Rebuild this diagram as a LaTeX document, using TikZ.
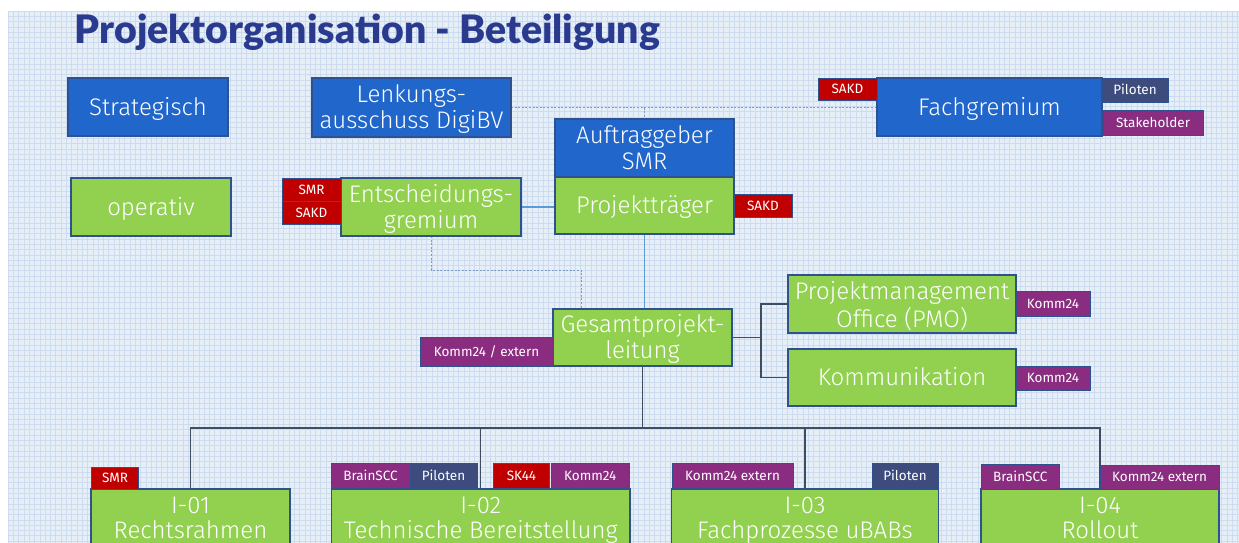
\documentclass[tikz,border=0pt]{standalone}
\usepackage{fontspec}
\usepackage{graphicx}
\setmainfont{Fira Sans}[UprightFont={* Light},BoldFont={*}]
\newfontfamily\tagfont{Fira Sans}
\newfontfamily\titlefont{Lato}[UprightFont={* Black}]
\usetikzlibrary{calc}

\definecolor{paperblue}{HTML}{E6EEF8}
\definecolor{gridblue}{HTML}{CCDCEE}
\definecolor{boxblue}{HTML}{2166CB}
\definecolor{boxgreen}{HTML}{92D050}
\definecolor{boxedge}{HTML}{2F528F}
\definecolor{tagred}{HTML}{C00000}
\definecolor{tagpurple}{HTML}{8A2D80}
\definecolor{tagslate}{HTML}{3D4B7D}
\definecolor{linkblue}{HTML}{5B9BD5}
\definecolor{dashblue}{HTML}{7A9CC6}
\definecolor{treegray}{HTML}{3E4D61}
\definecolor{titleblue}{HTML}{2A3B8F}

\pgfdeclarelayer{paper}
\pgfdeclarelayer{wires}
\pgfsetlayers{paper,wires,main}

% two centred lines, baseline on the first one
\newcommand\twol[2]{\begin{tabular}[t]{@{}c@{}}#1\\#2\end{tabular}}

\tikzset{
  every node/.style={inner sep=0pt, outer sep=0pt},
  sz/.style 2 args={minimum width=#1pt, minimum height=#2pt},
  unit/.style={draw=boxedge, line width=1.3pt, text=white, align=center,
    font=\fontsize{24}{26}\selectfont},
  bluebox/.style={unit, fill=boxblue},
  greenbox/.style={unit, fill=boxgreen},
  one/.style={text height=16.5pt, text depth=0pt},
  two/.style={text height=16.5pt, text depth=26pt},
  lower/.style={font=\fontsize{24}{24}\selectfont, text height=16.5pt, text depth=24pt},
  tag/.style={draw=boxedge, line width=0.8pt, text=white,
    font=\tagfont\fontsize{13.5}{15}\selectfont, text height=9.3pt, text depth=0pt},
  redtag/.style={tag, fill=tagred},
  purpletag/.style={tag, fill=tagpurple},
  slatetag/.style={tag, fill=tagslate},
  link/.style={draw=linkblue, line width=1.2pt},
  dashlink/.style={draw=dashblue, line width=0.9pt, dash pattern=on 2pt off 1.6pt},
  tree/.style={draw=treegray, line width=1.3pt},
}

\begin{document}
\begin{tikzpicture}[x=1pt, y=-1pt]
\useasboundingbox (0,0) rectangle (1239,543);

% graph-paper background
\begin{pgfonlayer}{paper}
  \fill[white] (0,0) rectangle (1239,543);
  \fill[paperblue] (8,11) rectangle (1239,543);
  \begin{scope}
    \clip (8,11) rectangle (1239,543);
    \foreach \i in {0,...,233} \draw[gridblue, line width=0.6pt] ({8+\i*5.3},11) -- ++(0,532);
    \foreach \j in {0,...,101} \draw[gridblue, line width=0.6pt] (8,{11+\j*5.3}) -- ++(1231,0);
  \end{scope}
\end{pgfonlayer}

% heading
\node[text=titleblue, anchor=base] (title) at (367.5,43.5)
  {\resizebox{585pt}{!}{\titlefont Projektorganisation - Beteiligung}};

% level labels
\node[bluebox, one, sz={160}{58}] (strat) at (148,107) {Strategisch};
\node[greenbox, one, sz={160}{58}] (oper) at (151,207) {operativ};

% steering level
\node[bluebox, two, sz={199}{59}] (lenk) at (411.5,107.5) {\twol{Lenkungs-}{ausschuss DigiBV}};
\node[bluebox, two, sz={179}{58}] (auft) at (644.5,148) {\twol{Auftraggeber}{SMR}};
\node[greenbox, one, sz={179}{57}] (ptr) at (644.5,205.5) {Projektträger};
\node[redtag, sz={58}{23}] (ptrsakd) at (763,205.5) {SAKD};

\node[greenbox, two, sz={180}{58}] (ent) at (431,207) {\twol{Entscheidungs-}{gremium}};
\node[redtag, sz={59}{23}] (entsmr) at (311.5,189.5) {SMR};
\node[redtag, sz={59}{23}] (entsakd) at (311.5,212.5) {SAKD};

\node[bluebox, one, sz={225}{58}] (fach) at (989.5,107) {Fachgremium};
\node[redtag, sz={59}{22}] (fachsakd) at (847.5,89) {SAKD};
\node[slatetag, sz={66}{24}] (fachpil) at (1135,90) {Piloten};
\node[purpletag, sz={100}{25}] (fachstake) at (1153,122.5) {Stakeholder};

% project lead and staff units
\node[greenbox, two, sz={179}{57}] (gpl) at (642.5,337.5) {\twol{Gesamtprojekt-}{leitung}};
\node[purpletag, sz={133}{29}] (gpltag) at (486.5,351.5) {Komm24 / extern};

\node[greenbox, two, sz={228}{58}] (pmo) at (902,304) {\twol{Projektmanagement}{Office (PMO)}};
\node[purpletag, sz={74}{25}] (pmotag) at (1053,303.5) {Komm24};
\node[greenbox, one, sz={228}{57}] (kom) at (902,377.5) {Kommunikation};
\node[purpletag, sz={74}{24}] (komtag) at (1053,378) {Komm24};

% sub-projects (they run on below the lower edge)
\node[greenbox, lower, sz={199}{55.5}] (i01) at (190.5,516.75) {\twol{I-01}{Rechtsrahmen}};
\node[redtag, sz={47}{22}] (i01smr) at (115,478) {SMR};

\node[greenbox, lower, sz={298.5}{55.5}] (i02) at (480.75,516.75) {\twol{I-02}{Technische Bereitstellung}};
\node[purpletag, sz={79}{25}] (i02brain) at (370.5,475.5) {BrainSCC};
\node[slatetag, sz={67}{25}] (i02pil) at (443.5,475.5) {Piloten};
\node[redtag, sz={56}{25}] (i02sk) at (521.5,475.5) {SK44};
\node[purpletag, sz={78.5}{25}] (i02komm) at (590.25,475.5) {Komm24};

\node[greenbox, lower, sz={267}{55.5}] (i03) at (805,516.75) {\twol{I-03}{Fachprozesse uBABs}};
\node[purpletag, sz={121}{25}] (i03komm) at (732.5,475.5) {Komm24 extern};
\node[slatetag, sz={66}{25}] (i03pil) at (905,475.5) {Piloten};

\node[greenbox, lower, sz={238}{55.5}] (i04) at (1100,516.75) {\twol{I-04}{Rollout}};
\node[purpletag, sz={78.5}{25}] (i04brain) at (1020.25,476.5) {BrainSCC};
\node[purpletag, sz={119}{24}] (i04komm) at (1159.5,477) {Komm24 extern};

% connectors
\coordinate (br) at (761,337.5);
\coordinate (bus) at (644,428);
\begin{pgfonlayer}{wires}
  \draw[dashlink] (lenk.east) -- (lenk.east -| fach.west);
  \draw[dashlink] (auft.north |- lenk.east) -- (auft.north);
  \draw[dashlink] (ent.south) -- ++(0,34) -| ([xshift=28pt]gpl.north west);

  \draw[link] (ent.east) -- (ent.east -| ptr.west);
  \draw[link] (ptr.south) -- (ptr.south |- gpl.north);

  \draw[tree, line width=1.8pt] (gpl.east) -- (gpl.east -| br);
  \draw[tree, line width=1.8pt] (pmo.west) -- (pmo.west -| br) -- (kom.west -| br) -- (kom.west);

  \draw[tree] (gpl.south) -- (gpl.south |- bus);
  \draw[tree] (i01.north) |- (gpl.south |- bus) -| (i04.north);
  \draw[tree] (i02.north) -- (i02.north |- bus);
  \draw[tree] (i03.north) -- (i03.north |- bus);
\end{pgfonlayer}
\end{tikzpicture}
\end{document}
